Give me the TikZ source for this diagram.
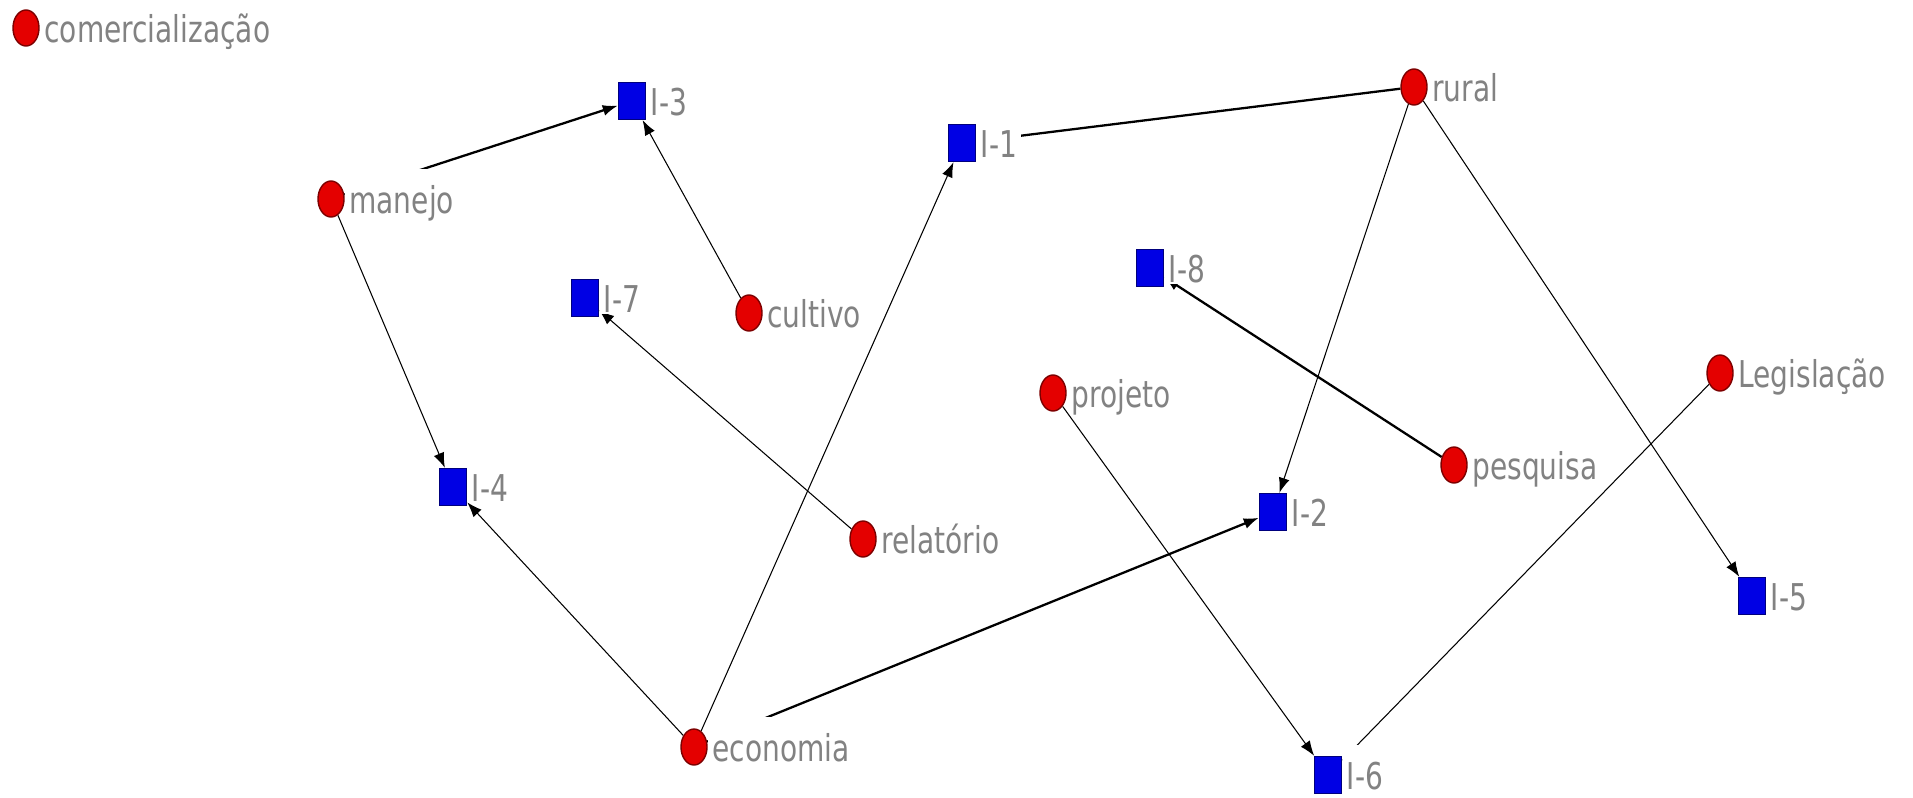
\documentclass[tikz,border=0pt]{standalone}
\usepackage{fontspec}
\usetikzlibrary{shapes.geometric,arrows.meta,backgrounds}
\newfontfamily\lblfont[FakeStretch=0.76]{DejaVu Sans}
\definecolor{termred}{RGB}{228,0,0}
\definecolor{docblue}{RGB}{0,0,228}
\definecolor{lblgray}{RGB}{130,130,130}
\tikzset{
	lbl/.style={fill=white,text=lblgray,font=\lblfont\fontsize{10.5pt}{12pt}\selectfont,
		text height=0.42cm,text depth=0cm,inner xsep=0.04cm,inner ysep=0.02cm,yshift=0.07cm},
	term/.style={ellipse,draw=termred!55!black,fill=termred,minimum width=0.26cm,
		minimum height=0.36cm,inner sep=0pt,label={[lbl]right:#1}},
	doc/.style={rectangle,draw=docblue!55!black,fill=docblue,minimum width=0.27cm,
		minimum height=0.37cm,inner sep=0pt,label={[lbl]right:#1}},
	link/.style={draw=black,line width=0.3pt,-{Latex[length=1.5mm,width=1.1mm]}},
	strong/.style={line width=0.65pt}
}

\begin{document}
\begin{tikzpicture}[x=0.01cm,y=-0.01cm]
	\useasboundingbox (0,0) rectangle (1913,797);

	\node[term=comercialização] (comerc) at (26,28) {};
	\node[term=manejo] (manejo) at (331,199) {};
	\node[term=cultivo] (cultivo) at (749,313) {};
	\node[term=rural] (rural) at (1414,87) {};
	\node[term=Legislação] (legisl) at (1720,373) {};
	\node[term=projeto] (projeto) at (1053,393) {};
	\node[term=pesquisa] (pesquisa) at (1454,465) {};
	\node[term=relatório] (relat) at (863,539) {};
	\node[term=economia] (econ) at (694,747) {};

	\node[doc=I-1] (i1) at (962,143) {};
	\node[doc=I-2] (i2) at (1273,512) {};
	\node[doc=I-3] (i3) at (632,101) {};
	\node[doc=I-4] (i4) at (453,487) {};
	\node[doc=I-5] (i5) at (1752,596) {};
	\node[doc=I-6] (i6) at (1328,775) {};
	\node[doc=I-7] (i7) at (585,298) {};
	\node[doc=I-8] (i8) at (1150,268) {};

	\begin{scope}[on background layer]
		\draw[link,strong] (manejo) -- (i3);
		\draw[link] (cultivo) -- (i3);
		\draw[link] (manejo) -- (i4);
		\draw[link] (econ) -- (i4);
		\draw[link] (econ) -- (i1);
		\draw[link,strong] (econ) -- (i2);
		\draw[link] (relat) -- (i7);
		\draw[link,strong] (rural) -- (i1);
		\draw[link] (rural) -- (i2);
		\draw[link] (rural) -- (i5);
		\draw[link,strong] (pesquisa) -- (i8);
		\draw[link] (projeto) -- (i6);
		\draw[link] (legisl) -- (i6);
	\end{scope}
\end{tikzpicture}
\end{document}
